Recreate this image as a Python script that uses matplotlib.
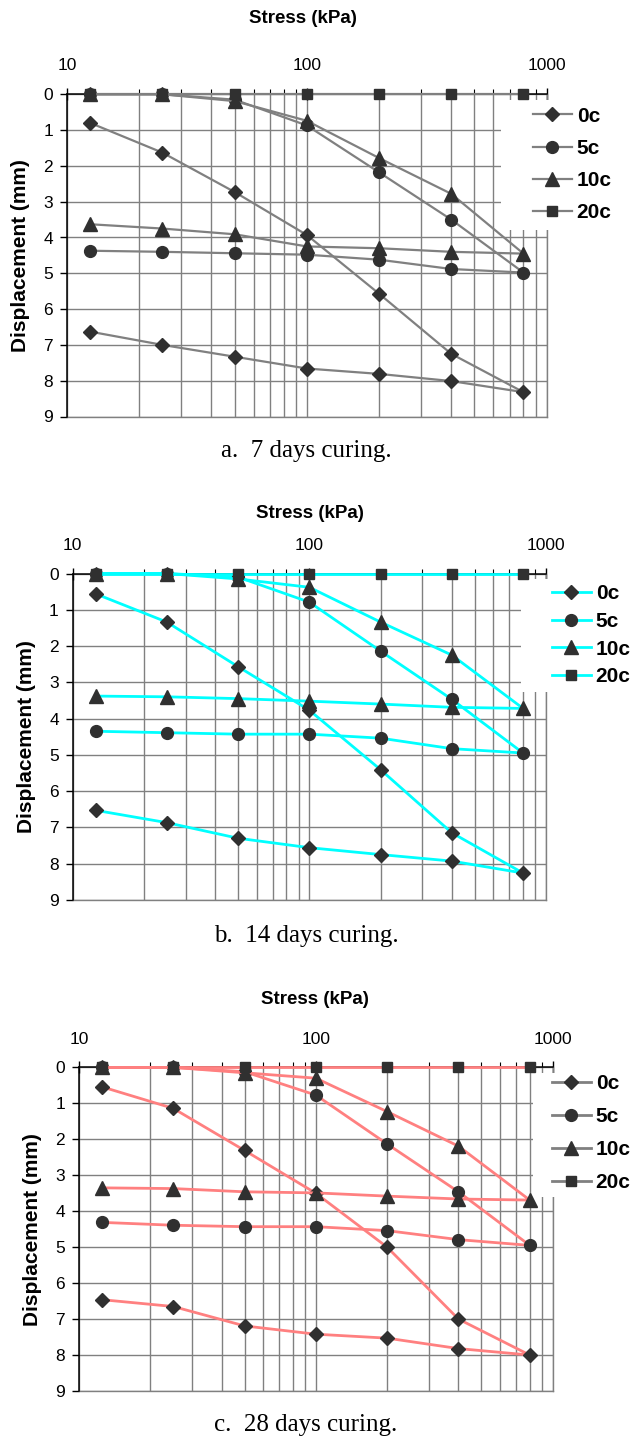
import matplotlib
matplotlib.use("Agg")
import matplotlib.pyplot as plt
from matplotlib.lines import Line2D
from matplotlib.patches import Rectangle
import matplotlib.ticker as mticker

plt.rcParams['font.family'] = ['Liberation Sans', 'DejaVu Sans']

# ---------------- data ----------------
stress = [12.5, 25, 50, 100, 200, 400, 800]
mixes = ["0c", "5c", "10c", "20c"]
x_ticks = [10, 100, 1000]
x_tick_labels = ["10", "100", "1000"]
y_ticks = [0, 1, 2, 3, 4, 5, 6, 7, 8, 9]
captions = ["a.  7 days curing.", "b.  14 days curing.", "c.  28 days curing."]

# 7 days curing (loading, then unloading values at the same stresses)
d7_load_0c = [0.80, 1.63, 2.73, 3.93, 5.57, 7.25, 8.32]
d7_unload_0c = [6.63, 7.00, 7.33, 7.66, 7.81, 8.01, 8.32]
d7_load_5c = [0.00, 0.00, 0.15, 0.87, 2.18, 3.50, 4.98]
d7_unload_5c = [4.37, 4.40, 4.44, 4.48, 4.62, 4.88, 4.98]
d7_load_10c = [0.00, 0.00, 0.19, 0.74, 1.78, 2.78, 4.45]
d7_unload_10c = [3.63, 3.75, 3.91, 4.25, 4.30, 4.40, 4.45]
d7_load_20c = [0.00, 0.00, 0.00, 0.00, 0.00, 0.00, 0.00]

# 14 days curing
d14_load_0c = [0.56, 1.34, 2.57, 3.77, 5.41, 7.15, 8.26]
d14_unload_0c = [6.53, 6.87, 7.30, 7.56, 7.75, 7.93, 8.26]
d14_load_5c = [0.00, 0.00, 0.10, 0.79, 2.14, 3.47, 4.95]
d14_unload_5c = [4.35, 4.39, 4.43, 4.43, 4.54, 4.83, 4.95]
d14_load_10c = [0.00, 0.00, 0.15, 0.38, 1.34, 2.25, 3.72]
d14_unload_10c = [3.38, 3.40, 3.45, 3.52, 3.60, 3.69, 3.72]
d14_load_20c = [0.00, 0.00, 0.00, 0.00, 0.00, 0.00, 0.00]

# 28 days curing
d28_load_0c = [0.54, 1.14, 2.31, 3.50, 5.00, 7.00, 8.00]
d28_unload_0c = [6.46, 6.65, 7.19, 7.42, 7.53, 7.82, 8.00]
d28_load_5c = [0.00, 0.00, 0.12, 0.77, 2.13, 3.46, 4.95]
d28_unload_5c = [4.31, 4.39, 4.43, 4.43, 4.54, 4.79, 4.95]
d28_load_10c = [0.00, 0.00, 0.15, 0.30, 1.23, 2.19, 3.69]
d28_unload_10c = [3.35, 3.37, 3.46, 3.49, 3.58, 3.66, 3.69]
d28_load_20c = [0.00, 0.00, 0.00, 0.00, 0.00, 0.00, 0.00]

datasets = [
    [(d7_load_0c, d7_unload_0c), (d7_load_5c, d7_unload_5c),
     (d7_load_10c, d7_unload_10c), (d7_load_20c, None)],
    [(d14_load_0c, d14_unload_0c), (d14_load_5c, d14_unload_5c),
     (d14_load_10c, d14_unload_10c), (d14_load_20c, None)],
    [(d28_load_0c, d28_unload_0c), (d28_load_5c, d28_unload_5c),
     (d28_load_10c, d28_unload_10c), (d28_load_20c, None)],
]

# ---------------- style / layout ----------------
W, H = 631, 1437
fig = plt.figure(figsize=(W / 100, H / 100), dpi=100)

markers = ['D', 'o', '^', 's']
msizes = [7.5, 8.5, 9.5, 7.5]
mcol = '#303030'
grid_col = '#808080'
grid_lw = 1.0
leg_fs = 15

panels = [
    dict(l=67.0, r=546.7, t=94.3, b=416.5, line='#808080', leg_line='#808080', lw=1.6,
         title_xy=(303, 18.5), cap_y=451.5, leg_x=532.7, leg_cy=164.5, leg_sp=0.64,
         box=(500.7, 100, 230)),
    dict(l=72.7, r=546.0, t=573.5, b=899.9, line='#00FFFF', leg_line='#00FFFF', lw=2.0,
         title_xy=(310, 513.3), cap_y=936.0, leg_x=551.7, leg_cy=635.2, leg_sp=0.42,
         box=(521.0, 579, 691.7)),
    dict(l=79.0, r=552.7, t=1067.4, b=1391.0, line='#FF8080', leg_line='#808080', lw=2.0,
         title_xy=(315, 1000.0), cap_y=1424.5, leg_x=551.7, leg_cy=1133.0, leg_sp=0.67,
         box=(532.7, 1073, 1196.7)),
]

for p, data, cap in zip(panels, datasets, captions):
    l, r, t, b = p['l'], p['r'], p['t'], p['b']
    ax = fig.add_axes([l / W, 1 - b / H, (r - l) / W, (b - t) / H])
    ax.set_xscale('log')
    ax.set_xlim(10, 1000)
    ax.set_ylim(9, 0)
    ax.set_axisbelow(True)

    # axes / ticks
    ax.xaxis.tick_top()
    ax.set_xticks(x_ticks)
    ax.set_xticklabels(x_tick_labels)
    ax.xaxis.set_minor_locator(mticker.LogLocator(base=10, subs=(2, 3, 4, 5, 6, 7, 8, 9)))
    ax.xaxis.set_minor_formatter(mticker.NullFormatter())
    ax.set_yticks(y_ticks)
    ax.tick_params(axis='x', which='major', direction='inout', length=9, width=1.0,
                   pad=10.5, labelsize=12.5, colors='black')
    ax.tick_params(axis='x', which='minor', direction='out', length=3.5, width=0.8)
    ax.tick_params(axis='y', which='major', direction='out', length=5, width=1.0,
                   pad=5.0, labelsize=12.5)
    for s in ['right', 'bottom']:
        ax.spines[s].set_visible(False)
    ax.spines['top'].set_linewidth(1.1)
    ax.spines['left'].set_linewidth(1.1)

    ax.grid(True, which='both', axis='x', color=grid_col, lw=grid_lw)
    ax.grid(True, which='major', axis='y', color=grid_col, lw=grid_lw)
    # outer grid lines at the limits (not clipped in half)
    ax.axvline(1000, color=grid_col, lw=grid_lw, zorder=0.6, clip_on=False)
    ax.axhline(9, color=grid_col, lw=grid_lw, zorder=0.6, clip_on=False)

    # white area behind the legend (hides grid)
    bx, by0, by1 = p['box']
    ax.add_patch(Rectangle(((bx - l) / (r - l), (b - by1) / (b - t)),
                           (r - bx) / (r - l) + 0.02, (by1 - by0) / (b - t),
                           transform=ax.transAxes, facecolor='white', edgecolor='none',
                           zorder=1, clip_on=False))

    # data
    for (load, unload), mk, ms in zip(data, markers, msizes):
        xs = list(stress)
        ys = list(load)
        if unload is not None:
            xs = xs + list(stress[::-1][1:])
            ys = ys + list(unload[::-1][1:])
        ax.plot(xs, ys, color=p['line'], lw=p['lw'], marker=mk, ms=ms,
                mfc=mcol, mec=mcol, zorder=3, clip_on=False)

    # legend
    handles = [Line2D([], [], color=p['leg_line'], lw=p['lw'], marker=mk, ms=ms,
                      mfc=mcol, mec=mcol) for mk, ms in zip(markers, msizes)]
    ax.legend(handles, mixes, loc='center left',
              bbox_to_anchor=(p['leg_x'] / W, 1 - p['leg_cy'] / H),
              bbox_transform=fig.transFigure, frameon=False, borderpad=0,
              borderaxespad=0, handlelength=1.87, handletextpad=0.24,
              labelspacing=p['leg_sp'],
              prop=dict(family='Liberation Sans', weight='bold', size=leg_fs))

    # texts
    tx, ty = p['title_xy']
    fig.text(tx / W, 1 - ty / H, 'Stress (kPa)', ha='center', va='center',
             fontsize=13.5, fontweight='bold')
    fig.text((l - 46) / W, 1 - ((t + b) / 2) / H, 'Displacement (mm)', rotation=90,
             ha='center', va='center', fontsize=15, fontweight='bold')
    fig.text(306 / W, 1 - p['cap_y'] / H, cap, ha='center', va='center',
             fontsize=18, family='Liberation Serif')

fig.savefig('out.png', dpi=100)
